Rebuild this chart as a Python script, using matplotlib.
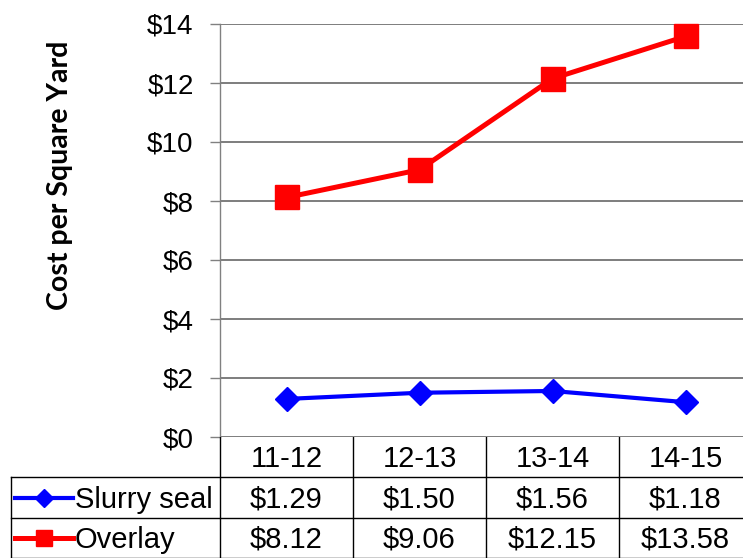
import matplotlib
matplotlib.use("Agg")
from matplotlib import pyplot as plt
from matplotlib.lines import Line2D

# fiscal years and cost per square yard
years = ["11-12", "12-13", "13-14", "14-15"]
slurry_seal = [1.29, 1.50, 1.56, 1.18]
overlay = [8.12, 9.06, 12.15, 13.58]
slurry_labels = ["$1.29", "$1.50", "$1.56", "$1.18"]
overlay_labels = ["$8.12", "$9.06", "$12.15", "$13.58"]
y_ticks = [0, 2, 4, 6, 8, 10, 12, 14]

W, H = 743, 558
FONT = ["Liberation Sans", "DejaVu Sans"]
TICK_FS = 20
TAB_FS = 21

fig = plt.figure(figsize=(W / 100, H / 100), dpi=100)

# plot area in pixels
left_px, right_px, top_px, zero_px = 220, 752, 24, 437
ax = fig.add_axes([left_px / W, 1 - zero_px / H,
                   (right_px - left_px) / W, (zero_px - top_px) / H])

x = list(range(len(years)))
ax.plot(x, slurry_seal, color="#0000ff", lw=3.0, marker="D", ms=12,
        solid_joinstyle="round", zorder=4, clip_on=False)
ax.plot(x, overlay, color="#ff0000", lw=3.6, marker="s", ms=17,
        solid_joinstyle="round", zorder=4, clip_on=False)

ax.set_xlim(-0.5, 3.5)
ax.set_ylim(0, 14)
ax.set_yticks(y_ticks)
ax.set_yticklabels(["$%d" % v for v in y_ticks], family=FONT, fontsize=TICK_FS)
ax.set_xticks([])
ax.tick_params(axis="y", length=7, width=1, color="#808080", pad=12)
ax.grid(axis="y", color="#5a5a5a", lw=1.1)
ax.set_axisbelow(True)
for side in ["top", "right", "bottom"]:
    ax.spines[side].set_visible(False)
ax.spines["left"].set_color("#808080")
ax.spines["left"].set_linewidth(1.0)

fig.text(60 / W, 1 - 175 / H, "Cost per Square Yard", rotation=90,
         ha="center", va="center", family=["Lato", "DejaVu Sans"],
         fontweight="bold", fontsize=20.5)

# data table below the plot, columns share the category scale
col_w = (right_px - left_px) / len(years)
tab_left_px = 10


def px2cat(px):
    return (px - left_px) / col_w - 0.5


tab = fig.add_axes([tab_left_px / W, 0, (right_px - tab_left_px) / W, (H - zero_px) / H])
tab.set_xlim(px2cat(tab_left_px), 3.5)
tab.set_ylim(0, 3)
tab.axis("off")

lc = "#000000"
lw = 1.0
for xv in [0.5, 1.5, 2.5]:
    tab.add_line(Line2D([xv, xv], [0, 3], color=lc, lw=lw))
tab.add_line(Line2D([-0.5, -0.5], [0, 3], color=lc, lw=lw))
for yv in [0, 1, 2]:
    tab.add_line(Line2D([px2cat(tab_left_px + 1), 3.5], [yv, yv], color=lc, lw=lw))
tab.add_line(Line2D([px2cat(tab_left_px + 1)] * 2, [0, 2], color=lc, lw=lw))

for i, yr in enumerate(years):
    tab.text(i, 2.45, yr, ha="center", va="center", family=FONT, fontsize=TAB_FS)
    tab.text(i, 1.45, slurry_labels[i], ha="center", va="center", family=FONT, fontsize=TAB_FS)
    tab.text(i, 0.45, overlay_labels[i], ha="center", va="center", family=FONT, fontsize=TAB_FS)

# legend keys inside the row headers
rows = [("Slurry seal", "#0000ff", "D", 9, 3.0, 1.5),
        ("Overlay", "#ff0000", "s", 12, 3.6, 0.5)]
for name, color, mk, size, width, yv in rows:
    tab.add_line(Line2D([px2cat(15), px2cat(73)], [yv, yv], color=color, lw=width))
    tab.plot([px2cat(44)], [yv], marker=mk, ms=size, color=color)
    tab.text(px2cat(75), yv - 0.05, name, ha="left", va="center", family=FONT, fontsize=TAB_FS)

fig.savefig("out.png", dpi=100)
